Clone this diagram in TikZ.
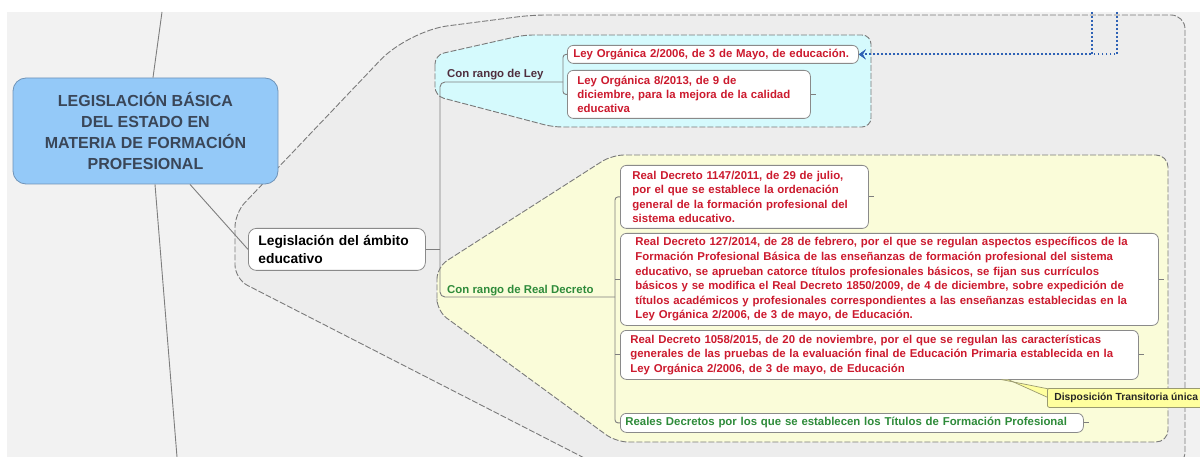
\documentclass[tikz,border=0pt]{standalone}
\usepackage{fontspec}
\setmainfont{Liberation Sans}
\usetikzlibrary{arrows.meta,calc}
\definecolor{bgc}{HTML}{F2F2F2}
\definecolor{grpfill}{HTML}{EDEDED}
\definecolor{grpdraw}{HTML}{7A7A7A}
\definecolor{cyanfill}{HTML}{D5FAFD}
\definecolor{yelfill}{HTML}{FAFCD9}
\definecolor{boxdraw}{HTML}{8A8A8A}
\definecolor{redtxt}{HTML}{CC1A2E}
\definecolor{greentxt}{HTML}{2E8B3A}
\definecolor{lawtxt}{HTML}{4F2E3E}
\definecolor{rootfill}{HTML}{94C9F8}
\definecolor{rootdraw}{HTML}{6F93B8}
\definecolor{roottxt}{HTML}{3A4658}
\definecolor{linkblue}{HTML}{2F62B5}
\definecolor{notefill}{HTML}{FFFF9E}
\definecolor{notedraw}{HTML}{9A9A70}
\definecolor{connc}{HTML}{7E7E7E}
\tikzset{
  grpline/.style={draw=grpdraw, line width=0.9pt, dash pattern=on 6pt off 2pt},
  conn/.style={draw=connc, line width=0.9pt},
  box/.style={draw=boxdraw, fill=white, line width=0.8pt, rounded corners=6pt,
    anchor=north west, align=left, inner ysep=2pt},
  redfont/.style={text=redtxt, font=\bfseries\fontsize{11.4}{14.3}\selectfont},
  lbl/.style={inner sep=0pt, anchor=west, font=\bfseries\fontsize{11.4}{14}\selectfont},
  link/.style={draw=linkblue, line width=1.8pt, dash pattern=on 1.8pt off 2.2pt,
    -{Stealth[length=7pt,width=10pt,inset=3pt]}},
  note/.style={draw=notedraw, fill=notefill, line width=0.8pt, rounded corners=2pt,
    anchor=north west, inner xsep=7pt, inner ysep=0pt, minimum height=19pt,
    font=\bfseries\fontsize{10.3}{12}\selectfont, text=black!85}
}
\begin{document}
\begin{tikzpicture}[x=1pt,y=-1pt]
\useasboundingbox (0,0) rectangle (1200,457);
\clip (0,0) rectangle (1200,457);
\fill[white] (0,0) rectangle (1200,457);
\fill[bgc] (7,12) rectangle (1200,457);

% group outlines
\draw[grpline, fill=grpfill, rounded corners=14pt]
  (235,250) -- (235,213) [rounded corners=40pt] -- (408,31) [rounded corners=14pt] -- (532,15)
  -- (1185,15) -- (1185,466) -- (600,466) -- (235,279) -- cycle;
\draw[grpline, fill=cyanfill, rounded corners=9pt]
  (435,75) -- (435,55) -- (524,35) -- (871,35) -- (871,127) -- (553,127) -- (435,96) -- cycle;
\draw[grpline, fill=yelfill, rounded corners=12pt]
  (437,290) -- (437,267) -- (612,155) -- (1168,155) -- (1168,442) -- (616,442) -- (437,311) -- cycle;

% root
\node[draw=rootdraw, fill=rootfill, line width=0.8pt, rounded corners=13pt,
  minimum width=265pt, minimum height=106pt, align=center, text=roottxt,
  font=\bfseries\fontsize{16}{20.7}\selectfont] (root) at (145.5,131)
  {LEGISLACIÓN BÁSICA\\DEL ESTADO EN\\MATERIA DE FORMACIÓN\\PROFESIONAL};

% main branch node
\node[box, rounded corners=8pt, inner xsep=10pt, text width=157pt, minimum height=42pt,
  font=\bfseries\fontsize{13.8}{18}\selectfont] (leg) at (248,228)
  {Legislación del ámbito\\educativo};

% labels of sub-branches
\node[lbl, text=lawtxt] (ley) at (447,75) {Con rango de Ley};
\node[lbl, text=greentxt] (rd) at (447,291) {Con rango de Real Decreto};

% law children
\node[box, redfont, inner xsep=6pt, text width=279pt, minimum height=18pt] (l1) at (567,45)
  {Ley Orgánica 2/2006, de 3 de Mayo, de educación.};
\node[box, redfont, inner xsep=10pt, text width=223pt, minimum height=48pt] (l2) at (567,70)
  {Ley Orgánica 8/2013, de 9 de\\diciembre, para la mejora de la calidad\\educativa};

% decree children
\node[box, redfont, inner xsep=12pt, text width=224pt, minimum height=63pt] (d1) at (620,165)
  {Real Decreto 1147/2011, de 29 de julio,\\por el que se establece la ordenación\\general de la formación profesional del\\sistema educativo.};
\node[box, redfont, inner xsep=15pt, text width=508pt, minimum height=92pt,
  font=\bfseries\fontsize{11.4}{14.6}\selectfont] (d2) at (620,233)
  {Real Decreto 127/2014, de 28 de febrero, por el que se regulan aspectos específicos de la\\Formación Profesional Básica de las enseñanzas de formación profesional del sistema\\educativo, se aprueban catorce títulos profesionales básicos, se fijan sus currículos\\básicos y se modifica el Real Decreto 1850/2009, de 4 de diciembre, sobre expedición de\\títulos académicos y profesionales correspondientes a las enseñanzas establecidas en la\\Ley Orgánica 2/2006, de 3 de mayo, de Educación.};
\node[box, redfont, inner xsep=10pt, text width=498pt, minimum height=49pt] (d3) at (620,330)
  {Real Decreto 1058/2015, de 20 de noviembre, por el que se regulan las características\\generales de las pruebas de la evaluación final de Educación Primaria establecida en la\\Ley Orgánica 2/2006, de 3 de mayo, de Educación};
\node[box, inner xsep=5pt, text width=453pt, minimum height=19pt, text=greentxt,
  font=\bfseries\fontsize{11.4}{14}\selectfont] (d4) at (620,413)
  {Reales Decretos por los que se establecen los Títulos de Formación Profesional};

% note callout
\fill[notefill] (1001,379.5) -- (1049,389) -- (1049,398) -- (1008,379.5) -- cycle;
\draw[draw=notedraw, line width=0.7pt] (1001,379.5) -- (1049,389);
\draw[draw=notedraw, line width=0.7pt] (1008,379.5) -- (1049,398);
\node[note] (dt) at (1047,388) {Disposición Transitoria única};

% connectors
\coordinate (rtop) at (162,12);
\coordinate (rbot) at (177,457);
\coordinate (spine) at (440,0);
\coordinate (lawend) at (563,82);
\coordinate (rdend) at (615,297);
\draw[conn] ($(root.north)+(7.5,0)$) -- (rtop);
\draw[conn] ($(root.south)+(9.5,0)$) -- (rbot);
\draw[conn] ($(root.south)+(44.5,0)$) -- (leg.west);
\draw[conn] (leg.east) -- (leg.east -| spine);
\draw[conn, rounded corners=5pt] (lawend) -- (spine |- lawend) -- (spine |- rdend) -- (rdend);
\draw[conn, rounded corners=3pt] (l1.west) -- (l1.west -| lawend) -- (l2.west -| lawend) -- (l2.west);
\draw[conn, rounded corners=3pt] (d1.west) -- (d1.west -| rdend) -- (d4.west -| rdend) -- (d4.west);
\draw[conn] (d2.west -| rdend) -- (d2.west);
\draw[conn] (d3.west -| rdend) -- (d3.west);
% collapse stubs
\foreach \n in {l2,d1,d2,d3,d4} { \draw[conn] (\n.east) -- ++(5,0); }

% dotted links
\coordinate (b1) at (1092,12);
\coordinate (b2) at (1117,12);
\draw[link] (b1) |- (l1.east);
\draw[link] (b2) |- (l1.east);
\end{tikzpicture}
\end{document}
